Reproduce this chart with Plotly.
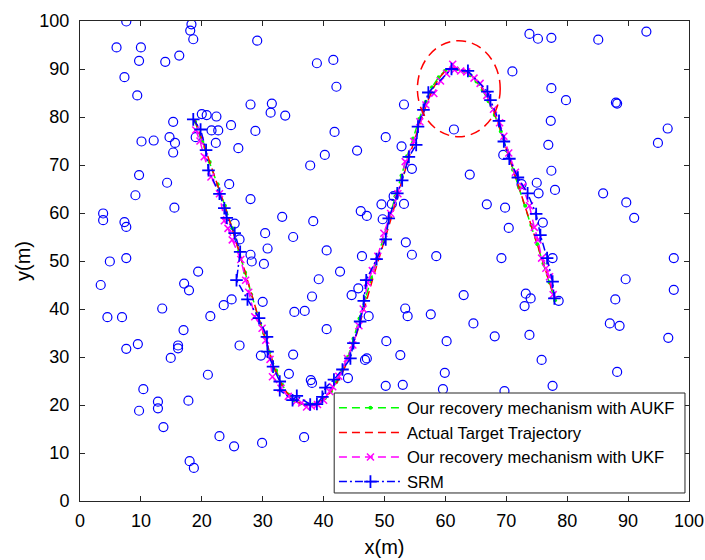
import plotly.graph_objects as go

# Sensor node positions (m)
node_x = [7.6, 18.3, 18.1, 18.6, 6.0, 10.0, 9.7, 14.0, 16.3, 7.3, 9.4, 15.3, 20.0, 20.8, 22.4, 24.8,
          21.6, 22.7, 10.1, 12.1, 14.7, 15.6, 15.3, 19.0, 22.3, 26.0, 9.7, 14.3, 24.5,
          29.1, 38.9, 41.6, 42.1, 28.0, 31.5, 31.3, 33.7, 28.8, 41.8, 50.2, 40.2, 45.5, 37.8,
          73.8, 75.2, 71.0, 53.2, 61.4, 52.8, 54.5, 64.0, 69.5, 75.0, 72.5, 76.9,
          77.4, 85.1, 93.0, 77.4, 79.8, 88.0, 88.2, 77.3, 96.5, 94.9, 77.4,
          9.1, 15.5, 3.8, 3.8, 7.3, 7.6, 4.9, 7.6, 19.4, 3.4, 17.1, 17.9, 13.5, 4.5, 6.9,
          23.6, 24.9, 21.4, 17.0, 9.5, 7.6, 16.1, 16.1,
          28.0, 33.2, 38.3, 46.1, 47.1, 49.5, 49.7, 25.4, 26.2, 30.4, 35.0, 30.8, 28.0, 28.2,
          30.2, 40.5, 46.3, 42.7, 39.2, 45.7, 44.6, 38.1, 30.0, 35.2, 36.9, 47.4, 40.5, 26.2, 50.3,
          75.3, 51.5, 51.2, 53.2, 66.8, 69.8, 70.4, 76.0, 53.5, 54.5, 58.5, 69.2, 63.0, 73.2,
          74.0, 73.0, 53.4, 53.8, 57.6, 64.6, 68.1, 73.8, 60.2,
          78.0, 85.9, 89.7, 91.0, 77.6, 97.5, 89.6, 97.5, 78.6, 87.9, 87.0, 88.6, 96.6,
          14.9, 21.0, 10.4, 12.8, 12.8, 9.7, 17.8, 13.7, 22.9, 25.3, 18.0, 18.7,
          29.7, 35.0, 34.3, 37.9, 38.1, 44.0, 46.8, 47.1, 50.2, 29.9, 36.8,
          52.6, 59.9, 53.0, 59.6, 69.7, 75.8, 77.6, 88.2]
node_y = [99.9, 99.3, 98.0, 96.2, 94.5, 94.5, 91.7, 91.5, 92.8, 88.3, 84.5, 79.0, 80.6, 80.4, 80.1, 78.3,
          77.2, 77.2, 74.9, 75.1, 75.8, 74.6, 72.6, 75.8, 74.6, 73.5, 67.9, 66.3, 66.0,
          95.9, 91.2, 91.9, 86.3, 82.6, 82.8, 80.9, 80.3, 77.1, 76.9, 75.8, 72.1, 73.0, 69.9,
          97.3, 96.3, 89.5, 82.6, 77.4, 73.9, 69.2, 68.0, 72.1, 66.3, 66.0, 74.2,
          96.5, 96.1, 97.8, 86.0, 83.5, 83.0, 82.8, 79.2, 77.6, 74.6, 68.8,
          63.7, 61.1, 59.9, 58.5, 58.1, 57.1, 49.9, 50.6, 47.8, 45.0, 45.3, 43.9, 40.1, 38.3, 38.3,
          40.8, 42.0, 38.5, 35.6, 32.7, 31.7, 32.4, 31.8,
          62.9, 59.2, 58.3, 60.4, 59.4, 61.8, 58.7, 57.8, 54.5, 55.8, 55.0, 52.6, 51.3, 49.9,
          49.4, 52.2, 51.0, 47.8, 46.2, 44.3, 42.9, 42.6, 41.5, 39.4, 39.6, 38.5, 35.8, 32.4, 33.3,
          64.1, 63.5, 61.9, 61.9, 61.8, 61.1, 56.9, 58.0, 53.9, 51.3, 51.0, 50.6, 42.9, 43.2,
          42.2, 40.6, 40.1, 38.5, 38.9, 37.0, 34.3, 34.6, 33.3,
          64.8, 64.1, 62.2, 59.0, 50.6, 50.6, 46.2, 44.0, 41.7, 42.0, 37.0, 36.5, 34.0,
          29.8, 26.3, 23.3, 20.7, 19.3, 18.8, 20.9, 15.4, 13.5, 11.4, 8.3, 6.9,
          30.3, 30.5, 26.5, 25.2, 24.6, 25.6, 29.4, 29.7, 24.0, 12.1, 13.3,
          30.4, 26.7, 24.2, 23.3, 22.9, 29.4, 24.0, 26.9]

# Actual target trajectory
true_x = [18.8, 20.0, 21.2, 22.4, 23.6, 24.8, 26.0, 27.0, 28.0, 29.0, 30.0, 31.0, 32.0, 33.0, 34.0,
          35.0, 36.0, 37.0, 38.0, 39.0, 40.0, 41.0, 42.0, 43.0, 44.0, 45.0, 46.0, 47.0, 48.0, 49.0,
          50.0, 51.0, 52.0, 53.0, 54.0, 55.0, 56.0, 57.0, 58.0, 59.0, 60.0, 61.0, 62.0, 63.0, 64.0,
          65.0, 66.0, 67.0, 68.0, 69.0, 70.0, 71.0, 72.0, 73.0, 74.0, 75.0, 76.0, 77.0, 78.0]
true_y = [79.5, 75.5, 71.0, 66.5, 62.0, 57.5, 52.5, 48.0, 43.5, 39.5, 35.5, 31.5, 27.5, 24.5, 22.5,
          21.2, 20.4, 20.0, 20.0, 20.4, 21.2, 22.5, 24.3, 26.5, 29.3, 33.0, 37.0, 41.5, 46.0, 50.0,
          54.0, 58.5, 63.0, 67.5, 71.5, 75.5, 79.5, 83.0, 86.0, 88.2, 89.6, 90.2, 90.2, 89.8, 89.0,
          87.8, 86.0, 83.8, 81.0, 77.5, 73.5, 69.5, 65.8, 62.0, 58.0, 54.0, 50.0, 46.0, 42.0]

# Recovery mechanism with AUKF
aukf_x = [18.9, 20.1, 21.3, 22.6, 23.8, 25.0, 26.1, 27.1, 28.1, 29.1, 30.2, 31.1, 32.2, 33.2, 34.2,
          35.2, 36.2, 37.2, 38.2, 39.2, 40.2, 41.2, 42.1, 43.0, 44.0, 44.9, 45.9, 46.8, 47.8, 48.8,
          49.8, 50.8, 51.8, 52.8, 53.7, 54.7, 55.7, 56.8, 57.8, 58.9, 59.9, 61.0, 62.0, 63.1, 64.1,
          65.1, 66.1, 67.1, 68.1, 69.1, 70.1, 71.1, 72.1, 73.1, 74.1, 75.1, 76.1, 77.1, 78.0]
aukf_y = [79.0, 74.8, 70.6, 66.0, 61.5, 56.8, 52.0, 47.6, 43.0, 39.0, 35.0, 31.0, 27.2, 24.2, 22.2,
          21.0, 20.3, 20.0, 20.1, 20.5, 21.4, 22.8, 24.8, 27.2, 30.0, 33.8, 38.0, 42.3, 46.5, 50.5,
          54.5, 59.0, 63.5, 67.8, 71.8, 75.5, 79.6, 83.2, 86.2, 88.3, 89.6, 90.1, 90.0, 89.6, 88.7,
          87.4, 85.6, 83.3, 80.4, 77.0, 73.0, 69.0, 65.3, 61.5, 57.5, 53.5, 49.5, 45.5, 41.8]

# Recovery mechanism with UKF
ukf_x = [19.0, 19.7, 20.4, 21.5, 22.9, 23.7, 24.3, 25.0, 26.4, 27.2, 27.7, 28.7, 29.9, 30.5, 31.2,
         31.6, 33.0, 34.2, 35.5, 36.4, 37.2, 38.0, 39.0, 40.0, 41.0, 41.5, 42.5, 43.9, 44.8, 45.8,
         46.5, 47.2, 48.0, 48.9, 49.9, 51.0, 52.2, 53.4, 54.8, 55.8, 56.8, 58.1, 59.2, 60.2, 61.2,
         61.5, 62.5, 63.5, 64.7, 65.7, 66.8, 67.9, 68.9, 69.6, 70.4, 71.5, 72.7, 73.8, 74.6, 75.2,
         75.8, 76.5, 77.1, 77.7]
ukf_y = [77.3, 75.0, 71.7, 67.5, 64.0, 58.4, 56.8, 54.4, 50.3, 46.0, 43.5, 38.4, 36.0, 33.5, 29.5,
         25.9, 23.5, 21.8, 20.8, 20.4, 19.6, 19.8, 20.1, 21.0, 22.8, 23.8, 26.0, 29.7, 32.5, 36.5,
         40.0, 45.5, 48.0, 51.0, 55.8, 59.9, 64.0, 70.7, 74.9, 79.0, 82.5, 84.9, 87.5, 89.0, 91.0,
         89.8, 89.6, 89.4, 88.1, 87.0, 84.5, 81.6, 78.8, 76.0, 72.5, 68.5, 65.5, 61.5, 57.0, 54.4,
         50.6, 48.5, 46.7, 43.0]

# SRM estimate
srm_x = [18.6, 19.8, 20.7, 21.1, 22.9, 23.7, 24.1, 25.4, 26.3, 25.7, 27.5, 29.4, 30.7, 30.8, 31.7,
         32.8, 32.8, 34.9, 35.6, 37.8, 38.9, 39.8, 40.3, 41.7, 43.1, 44.4, 44.9, 46.0, 46.6, 47.0,
         48.7, 50.2, 50.7, 52.1, 52.9, 54.0, 55.2, 55.5, 56.4, 57.2, 61.0, 63.7, 66.9, 67.4, 68.8,
         69.6, 70.5, 71.9, 73.5, 74.9, 75.6, 76.7, 77.6, 77.9]
srm_y = [79.5, 77.4, 73.1, 68.9, 64.0, 61.0, 59.0, 55.8, 51.9, 46.0, 42.0, 38.1, 34.2, 31.1, 28.0,
         24.9, 23.1, 21.0, 21.9, 20.1, 20.2, 21.7, 23.6, 25.3, 27.4, 29.7, 32.9, 37.4, 41.7, 46.0,
         50.4, 54.5, 58.9, 64.1, 66.8, 71.7, 74.2, 78.0, 81.5, 85.1, 90.0, 89.6, 85.3, 83.5, 79.2,
         74.9, 71.3, 67.4, 64.1, 59.8, 55.4, 50.6, 45.7, 42.2]

# Highlighted region around the trajectory peak
zone_x = [55.4, 69.0]
zone_y = [75.9, 95.9]

FONT = "Liberation Sans, Arial, Helvetica, sans-serif"

fig = go.Figure()

fig.add_trace(go.Scatter(
    x=node_x, y=node_y, mode="markers", showlegend=False,
    marker=dict(symbol="circle-open", size=9, color="#0000ff", line=dict(width=1.2, color="#0000ff")),
))

fig.add_trace(go.Scatter(
    x=aukf_x, y=aukf_y, mode="lines+markers", name="Our recovery mechanism with AUKF",
    line=dict(color="#00ff00", width=1.5, dash="8px,5px"),
    marker=dict(symbol="circle", size=4, color="#00ff00"),
))

fig.add_trace(go.Scatter(
    x=true_x, y=true_y, mode="lines", name="Actual Target Trajectory",
    line=dict(color="#ff0000", width=1.5, dash="8px,5px"),
))

fig.add_trace(go.Scatter(
    x=ukf_x, y=ukf_y, mode="lines+markers", name="Our recovery mechanism with UKF",
    line=dict(color="#ff00ff", width=1.5, dash="8px,5px"),
    marker=dict(symbol="x-thin-open", size=7, color="#ff00ff", line=dict(width=1.5, color="#ff00ff")),
))

fig.add_trace(go.Scatter(
    x=srm_x, y=srm_y, mode="lines+markers", name="SRM",
    line=dict(color="#0000ff", width=1.5, dash="8px,3px,2px,3px"),
    marker=dict(symbol="cross-thin-open", size=9, color="#0000ff", line=dict(width=1.8, color="#0000ff")),
))

fig.add_shape(
    type="circle", xref="x", yref="y",
    x0=zone_x[0], x1=zone_x[1], y0=zone_y[0], y1=zone_y[1],
    line=dict(color="#ff0000", width=1.5, dash="10px,6px"),
)

# Legend frame: white box over the data, legend entries drawn on top
fig.add_shape(
    type="rect", xref="paper", yref="paper", layer="above",
    x0=0.4174, x1=0.9934, y0=0.0167, y1=0.225,
    fillcolor="white", line=dict(color="#262626", width=1),
)

axis_common = dict(
    range=[0, 100], dtick=10, ticks="inside", ticklen=5, tickwidth=1, tickcolor="#262626",
    showline=True, linecolor="#262626", linewidth=1, mirror="ticks",
    showgrid=False, zeroline=False, automargin=False,
    tickfont=dict(family=FONT, size=18, color="#000000"),
)

fig.update_layout(
    width=705, height=560,
    margin=dict(l=80, r=16, t=21, b=59),
    paper_bgcolor="white", plot_bgcolor="white",
    font=dict(family=FONT, color="#000000"),
    xaxis=dict(**axis_common, ticklabelstandoff=3,
               title=dict(text="x(m)", font=dict(family=FONT, size=20), standoff=10)),
    yaxis=dict(**axis_common, ticklabelstandoff=6,
               title=dict(text="y(m)", font=dict(family=FONT, size=20), standoff=3)),
    legend=dict(
        x=0.417, y=0.003, xanchor="left", yanchor="bottom",
        bgcolor="rgba(0,0,0,0)", borderwidth=0,
        font=dict(family=FONT, size=16.6, color="#000000"),
        itemwidth=63,
    ),
)

fig.write_html("out.html")
